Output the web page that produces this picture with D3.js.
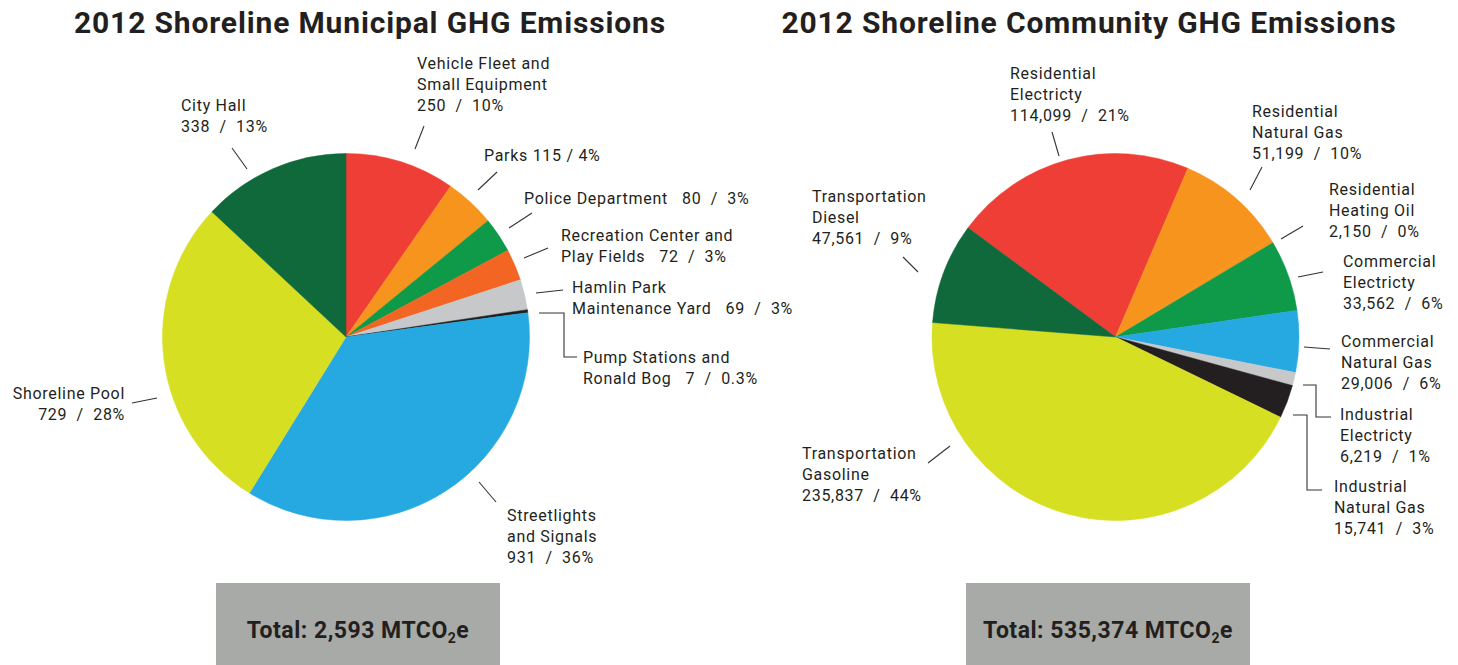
<!DOCTYPE html>
<html>
<head>
<meta charset="utf-8">
<script src="https://cdn.jsdelivr.net/npm/d3@7"></script>
<style>
  body { margin: 0; background: #fff; }
  svg text { font-family: Roboto, "Open Sans", sans-serif; fill: #231f20; white-space: pre; }
</style>
</head>
<body>
<div class="chart"></div>
<script>
// municipal data (clockwise from 12 o'clock)
const muniNames = [["Vehicle Fleet and","Small Equipment"],["Parks"],["Police Department"],["Recreation Center and","Play Fields"],["Hamlin Park","Maintenance Yard"],["Pump Stations and","Ronald Bog"],["Streetlights","and Signals"],["Shoreline Pool"],["City Hall"]];
const muniValues = [250,115,80,72,69,7,931,729,338];
const muniPct = ["10%","4%","3%","3%","3%","0.3%","36%","28%","13%"];
const muniTotal = "2,593";

// community data
const commNames = [["Residential","Electricty"],["Residential","Natural Gas"],["Residential","Heating Oil"],["Commercial","Electricty"],["Commercial","Natural Gas"],["Industrial","Electricty"],["Industrial","Natural Gas"],["Transportation","Gasoline"],["Transportation","Diesel"]];
const commValues = [114099,51199,2150,33562,29006,6219,15741,235837,47561];
const commPct = ["21%","10%","0%","6%","6%","1%","3%","44%","9%"];
const commTotal = "535,374";

const muniColors = ["#ef3e36","#f7941d","#0e9a48","#f26522","#c7c8ca","#231f20","#25a9e0","#d7df23","#10693a"];
const commColors = ["#ef3e36","#f7941d","#f7941d","#0e9a48","#25a9e0","#c7c8ca","#231f20","#d7df23","#10693a"];

// label placement, same order as the data
const muniLayout = [
  {x:417, y:69, lead:[[424,126],[415,149]]},
  {x:484, y:161, inline:true, sep:" ", lead:[[497,172],[478,190]]},
  {x:524, y:204, inline:true, lead:[[532,213],[509,228]]},
  {x:561, y:241, inline:true, lead:[[548,248],[524,258]]},
  {x:572, y:293, inline:true, lead:[[563,290],[536,293]]},
  {x:583, y:363, inline:true, lead:[[539,313],[564,313],[564,357],[577,357]]},
  {x:507, y:521, lead:[[479,482],[496,502]]},
  {x:125, y:399, anchor:"end", lead:[[132,403],[157,398]]},
  {x:181, y:111, lead:[[232,148],[247,169]]}
];
const commLayout = [
  {x:1010, y:79, lead:[[1052,132],[1059,156]]},
  {x:1252, y:117, lead:[[1262,167],[1250,190]]},
  {x:1329, y:195, lead:[[1303,226],[1281,239]]},
  {x:1343, y:267, lead:[[1323,272],[1298,277]]},
  {x:1341, y:347, lead:[[1304,347],[1330,349]]},
  {x:1340, y:420, lead:[[1303,385],[1316,385],[1316,417],[1331,417]]},
  {x:1334, y:492, lead:[[1293,415],[1307,415],[1307,490],[1322,490]]},
  {x:802, y:459, lead:[[928,463],[950,446]]},
  {x:812, y:202, lead:[[903,257],[918,272]]}
];

const W = 1458, H = 665;
const svg = d3.select("div.chart").append("svg")
  .attr("width", W).attr("height", H)
  .attr("viewBox", `0 0 ${W} ${H}`);

const fmt = d3.format(",");
const lineH = 21;

function drawPie(opts){
  const g = svg.append("g");

  // title
  g.append("text")
    .attr("x", opts.titleX).attr("y", 33)
    .attr("text-anchor", "middle")
    .attr("font-size", 30).attr("font-weight", 700)
    .attr("letter-spacing", 0.85)
    .text(opts.title);

  const pie = d3.pie().sort(null)
    .startAngle(opts.start)
    .endAngle(opts.start + 2*Math.PI);
  const arc = d3.arc().innerRadius(0).outerRadius(opts.r);

  g.append("g")
    .attr("transform", `translate(${opts.cx},${opts.cy})`)
    .selectAll("path")
    .data(pie(opts.values))
    .enter()
    .append("path")
      .attr("d", arc)
      .attr("fill", (d,i) => opts.colors[i])
      .attr("stroke", (d,i) => opts.colors[i])
      .attr("stroke-width", 0.5);

  // leader lines
  const line = d3.line();
  g.append("g").selectAll("path")
    .data(opts.layout)
    .enter()
    .append("path")
      .attr("d", d => line(d.lead))
      .attr("fill", "none")
      .attr("stroke", "#333")
      .attr("stroke-width", 1.1);

  // labels
  const labels = g.append("g").selectAll("text")
    .data(opts.layout)
    .enter()
    .append("text")
      .attr("x", d => d.x)
      .attr("y", d => d.y)
      .attr("font-size", 16)
      .attr("letter-spacing", 0.7)
      .attr("text-anchor", d => d.anchor || "start");

  labels.each(function(d,i){
    const t = d3.select(this);
    const names = opts.names[i].slice();
    const val = fmt(opts.values[i]) + (d.sep ? d.sep + "/" + d.sep : "  /  ") + opts.pct[i];
    let lines;
    if (d.inline) {
      lines = names.slice(0, -1);
      lines.push(names[names.length-1] + (d.sep ? d.sep : "   ") + val);
    } else {
      lines = names.concat([val]);
    }
    lines.forEach((s,k) => {
      t.append("tspan")
        .attr("x", d.x)
        .attr("dy", k === 0 ? 0 : lineH)
        .text(s);
    });
  });

  // total box
  g.append("rect")
    .attr("x", opts.boxX).attr("y", 583)
    .attr("width", 284).attr("height", 82)
    .attr("fill", "#a7aaa6");
  const tt = g.append("text")
    .attr("x", opts.boxX + 142).attr("y", 638)
    .attr("text-anchor", "middle")
    .attr("font-size", 23).attr("font-weight", 700)
    .attr("letter-spacing", 0.5);
  tt.append("tspan").text("Total: " + opts.total + " MTCO");
  tt.append("tspan").attr("font-size", 14).attr("dy", 5).text("2");
  tt.append("tspan").attr("dy", -5).text("e");
}

drawPie({
  title: "2012 Shoreline Municipal GHG Emissions", titleX: 370,
  cx: 346, cy: 337, r: 183.5, start: 0,
  values: muniValues, names: muniNames, pct: muniPct, colors: muniColors,
  layout: muniLayout, boxX: 216, total: muniTotal
});

drawPie({
  title: "2012 Shoreline Community GHG Emissions", titleX: 1089,
  cx: 1115.5, cy: 337, r: 183.5, start: -53.5*Math.PI/180,
  values: commValues, names: commNames, pct: commPct, colors: commColors,
  layout: commLayout, boxX: 966, total: commTotal
});
</script>
</body>
</html>
